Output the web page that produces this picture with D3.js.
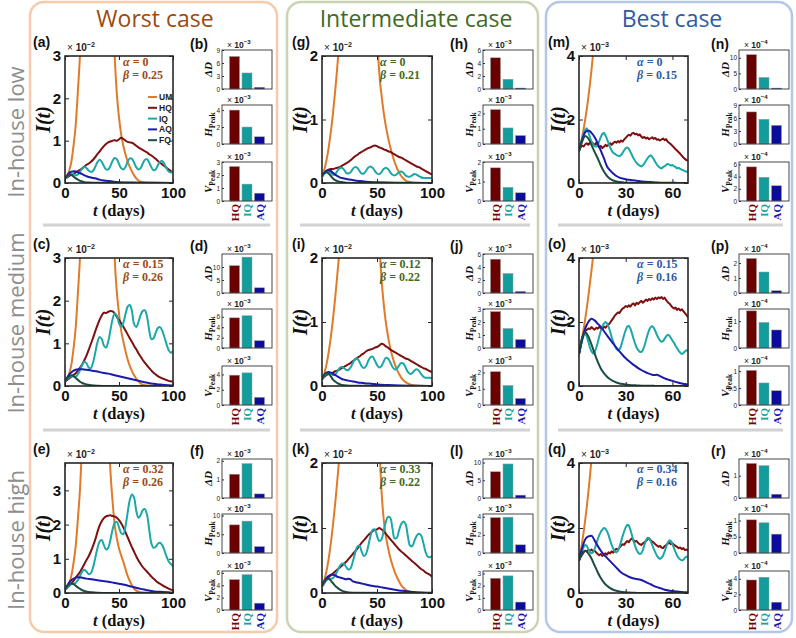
<!DOCTYPE html>
<html><head><meta charset="utf-8">
<script src="https://cdn.jsdelivr.net/npm/d3@7"></script>
<style>body{margin:0;background:#fff}svg{display:block}</style>
</head><body>
<svg width="796" height="638"></svg>
<script>
// ---------------- DATA ----------------
const daysW = d3.range(0, 101, 2);   // days for worst / intermediate series
const daysB1 = d3.range(0, 71, 1);   // days for best case (HQ, IQ)
const daysB2 = d3.range(0, 71, 2);   // days for best case (AQ, FQ)

const seriesNames = ['UM','HQ','IQ','AQ','FQ'];
const barCats = ['HQ','IQ','AQ'];
const columnTitles = ['Worst case','Intermediate case','Best case'];
const rowTitles = ['In-house low','In-house medium','In-house high'];

// Worst case, in-house low (a)
const UM_a = [[0,0.1],[2,0.17],[4,0.3],[6,0.52],[8,0.9],[10,1.4],[12,2.2],[14,3.1],[16,4.6],[18,6.8],[20,10],[40,10],[42,6],[44,4.2],[46,3.0],[48,2.1],[50,1.55],[52,1.15],[54,0.88],[56,0.68],[58,0.5],[60,0.38],[62,0.27],[64,0.18],[66,0.11],[68,0.06],[70,0.03],[74,0.01],[80,0.003],[100,0]];
const HQ_a = [0.10,0.13,0.17,0.20,0.22,0.25,0.28,0.31,0.35,0.39,0.43,0.46,0.50,0.55,0.61,0.68,0.74,0.81,0.87,0.92,0.96,0.98,1.00,1.01,1.00,1.03,1.07,1.04,1.00,0.97,0.96,0.95,0.92,0.88,0.84,0.81,0.78,0.75,0.72,0.68,0.65,0.61,0.57,0.52,0.48,0.44,0.40,0.36,0.32,0.28,0.24];
const IQ_a = [0.10,0.15,0.20,0.22,0.21,0.18,0.20,0.27,0.34,0.38,0.35,0.29,0.26,0.29,0.38,0.49,0.55,0.50,0.40,0.32,0.32,0.40,0.52,0.59,0.56,0.45,0.35,0.32,0.38,0.50,0.58,0.57,0.48,0.37,0.32,0.35,0.46,0.55,0.56,0.48,0.37,0.30,0.32,0.42,0.50,0.52,0.45,0.35,0.27,0.25,0.28];
const AQ_a = [[0,0.12],[2,0.18],[4,0.24],[6,0.27],[8,0.28],[10,0.27],[12,0.25],[14,0.23],[16,0.21],[18,0.18],[20,0.16],[24,0.13],[28,0.11],[32,0.08],[36,0.06],[40,0.045],[45,0.03],[50,0.02],[60,0.01],[70,0.005],[80,0.003],[100,0.001]];
const FQ_a = [[0,0.12],[2,0.17],[4,0.2],[6,0.19],[8,0.15],[10,0.11],[12,0.08],[14,0.05],[16,0.035],[18,0.02],[22,0.01],[30,0.003],[100,0]];

// Worst case, in-house medium (c)
const UM_c = [[0,0.1],[2,0.17],[4,0.3],[6,0.52],[8,0.9],[10,1.4],[12,2.2],[14,3.1],[16,4.6],[18,6.8],[20,10],[40,10],[42,6.5],[44,4.5],[46,3.0],[48,2.2],[50,1.7],[52,1.3],[54,1.05],[56,0.82],[58,0.62],[60,0.47],[62,0.35],[64,0.25],[66,0.17],[68,0.11],[70,0.06],[72,0.03],[76,0.01],[82,0.003],[100,0]];
const HQ_c = [0.10,0.14,0.18,0.22,0.26,0.30,0.36,0.43,0.51,0.61,0.72,0.85,0.99,1.13,1.28,1.42,1.55,1.65,1.72,1.71,1.74,1.76,1.75,1.70,1.62,1.55,1.47,1.39,1.30,1.21,1.12,1.03,0.94,0.86,0.77,0.69,0.61,0.54,0.48,0.42,0.36,0.31,0.27,0.23,0.20,0.18,0.16,0.14,0.12,0.11,0.10];
const IQ_c = [0.10,0.16,0.21,0.23,0.22,0.22,0.28,0.38,0.50,0.57,0.53,0.43,0.42,0.55,0.78,1.02,1.15,1.10,0.95,0.90,1.04,1.30,1.56,1.70,1.65,1.47,1.39,1.48,1.68,1.86,1.90,1.75,1.45,1.38,1.50,1.66,1.76,1.77,1.62,1.30,1.10,1.12,1.25,1.36,1.38,1.30,1.15,0.98,0.84,0.78,0.82];
const AQ_c = [[0,0.12],[2,0.2],[4,0.27],[6,0.32],[8,0.36],[10,0.38],[12,0.39],[16,0.39],[20,0.38],[25,0.36],[30,0.34],[35,0.31],[40,0.29],[45,0.26],[50,0.23],[55,0.2],[60,0.17],[65,0.14],[70,0.11],[75,0.08],[80,0.06],[85,0.04],[90,0.03],[95,0.02],[100,0.01]];
const FQ_c = [[0,0.12],[2,0.18],[4,0.23],[6,0.25],[8,0.23],[10,0.19],[12,0.14],[14,0.1],[16,0.07],[18,0.05],[20,0.035],[24,0.02],[30,0.008],[40,0.002],[100,0]];

// Worst case, in-house high (e)
const UM_e = [[0,0.1],[2,0.17],[4,0.3],[6,0.52],[8,0.9],[10,1.4],[12,2.2],[14,3.1],[16,4.6],[18,6.8],[20,10],[36,10],[38,7],[40,5],[42,3.6],[44,2.7],[46,2.0],[48,1.6],[50,1.3],[52,1.1],[54,0.92],[56,0.7],[58,0.5],[60,0.35],[62,0.22],[64,0.13],[66,0.07],[70,0.02],[76,0.005],[100,0]];
const HQ_e = [0.10,0.15,0.21,0.28,0.36,0.45,0.53,0.62,0.73,0.85,0.97,1.08,1.22,1.38,1.56,1.78,1.97,2.10,2.19,2.24,2.26,2.27,2.25,2.24,2.20,2.13,2.04,1.92,1.78,1.63,1.48,1.34,1.20,1.07,0.95,0.85,0.76,0.69,0.62,0.55,0.48,0.42,0.36,0.31,0.27,0.23,0.19,0.16,0.13,0.10,0.08];
const IQ_e = [0.10,0.16,0.22,0.26,0.27,0.30,0.38,0.50,0.63,0.68,0.62,0.55,0.58,0.75,1.02,1.30,1.50,1.55,1.40,1.27,1.32,1.55,1.85,2.05,2.08,1.92,1.75,1.72,1.95,2.35,2.72,2.88,2.78,2.40,2.20,2.28,2.42,2.45,2.28,1.85,1.45,1.32,1.35,1.44,1.47,1.40,1.25,1.07,0.92,0.85,0.78];
const AQ_e = [[0,0.12],[2,0.22],[4,0.31],[6,0.38],[8,0.42],[10,0.45],[12,0.46],[15,0.45],[20,0.42],[25,0.4],[30,0.37],[35,0.35],[40,0.33],[45,0.3],[50,0.27],[55,0.24],[60,0.2],[65,0.16],[70,0.12],[75,0.09],[80,0.06],[85,0.04],[90,0.03],[95,0.02],[100,0.01]];
const FQ_e = [[0,0.12],[2,0.2],[4,0.26],[6,0.28],[8,0.26],[10,0.21],[12,0.16],[14,0.12],[16,0.08],[18,0.06],[20,0.04],[25,0.02],[30,0.01],[40,0.003],[100,0]];

// Intermediate case (g, i, k)
const UM_g = [[0,0.1],[2,0.2],[4,0.35],[6,0.55],[8,0.8],[10,1.1],[12,1.45],[14,1.85],[16,2.3],[18,2.9],[20,3.6],[24,5],[44,5],[46,4.2],[48,3.3],[50,2.4],[52,1.75],[54,1.4],[56,1.12],[58,0.9],[60,0.72],[62,0.57],[64,0.44],[66,0.33],[68,0.24],[70,0.17],[72,0.11],[74,0.07],[76,0.04],[80,0.015],[86,0.005],[100,0]];
const HQ_g = [0.10,0.15,0.19,0.21,0.22,0.22,0.23,0.24,0.25,0.27,0.29,0.31,0.33,0.36,0.39,0.42,0.44,0.47,0.49,0.51,0.53,0.55,0.56,0.58,0.59,0.58,0.56,0.55,0.53,0.52,0.50,0.49,0.47,0.45,0.43,0.41,0.40,0.38,0.36,0.34,0.32,0.30,0.28,0.26,0.25,0.23,0.21,0.19,0.17,0.15,0.13];
const IQ_g = [0.10,0.14,0.17,0.18,0.16,0.13,0.14,0.19,0.23,0.24,0.21,0.16,0.15,0.17,0.22,0.25,0.24,0.19,0.15,0.15,0.19,0.24,0.26,0.24,0.19,0.15,0.14,0.17,0.22,0.24,0.22,0.17,0.13,0.12,0.14,0.17,0.18,0.16,0.12,0.10,0.10,0.12,0.14,0.13,0.11,0.09,0.08,0.08,0.08,0.08,0.08];
const AQ_g = [[0,0.12],[2,0.16],[4,0.19],[6,0.2],[8,0.19],[10,0.16],[12,0.13],[14,0.11],[16,0.09],[20,0.07],[25,0.055],[30,0.04],[35,0.03],[40,0.02],[50,0.012],[60,0.006],[70,0.003],[100,0.001]];
const FQ_g = [[0,0.12],[2,0.16],[4,0.17],[6,0.15],[8,0.11],[10,0.07],[12,0.045],[14,0.03],[17,0.015],[22,0.005],[30,0.001],[100,0]];

const UM_i = [[0,0.1],[2,0.19],[4,0.33],[6,0.52],[8,0.76],[10,1.05],[12,1.38],[14,1.75],[16,2.15],[18,2.7],[20,3.4],[24,5],[46,5],[48,4.2],[50,3.2],[52,2.3],[54,1.7],[56,1.3],[58,1.0],[60,0.78],[62,0.6],[64,0.46],[66,0.35],[68,0.26],[70,0.19],[72,0.13],[74,0.09],[76,0.06],[80,0.025],[86,0.008],[100,0]];
const HQ_i = [0.10,0.14,0.17,0.19,0.20,0.21,0.23,0.24,0.26,0.28,0.30,0.32,0.34,0.36,0.39,0.41,0.44,0.46,0.49,0.51,0.54,0.56,0.57,0.58,0.60,0.61,0.63,0.66,0.65,0.62,0.60,0.57,0.55,0.53,0.51,0.49,0.47,0.45,0.43,0.42,0.40,0.38,0.36,0.34,0.32,0.30,0.28,0.27,0.25,0.23,0.22];
const IQ_i = [0.10,0.15,0.19,0.20,0.19,0.17,0.18,0.23,0.28,0.30,0.28,0.25,0.25,0.29,0.36,0.42,0.43,0.38,0.31,0.28,0.31,0.39,0.45,0.46,0.40,0.33,0.29,0.31,0.38,0.44,0.43,0.37,0.30,0.26,0.27,0.32,0.36,0.35,0.29,0.22,0.19,0.20,0.24,0.26,0.24,0.19,0.15,0.13,0.13,0.13,0.12];
const AQ_i = [[0,0.12],[2,0.17],[4,0.21],[6,0.22],[8,0.21],[10,0.19],[12,0.17],[14,0.15],[16,0.13],[18,0.11],[20,0.1],[25,0.08],[30,0.065],[35,0.05],[40,0.04],[45,0.035],[50,0.025],[60,0.015],[70,0.008],[80,0.004],[100,0.001]];
const FQ_i = [[0,0.12],[2,0.17],[4,0.2],[6,0.19],[8,0.15],[10,0.1],[12,0.07],[14,0.045],[16,0.03],[20,0.012],[25,0.005],[100,0]];

const UM_k = [[0,0.1],[2,0.19],[4,0.33],[6,0.52],[8,0.76],[10,1.05],[12,1.38],[14,1.75],[16,2.15],[18,2.7],[20,3.4],[24,5],[46,5],[48,4.2],[50,3.2],[52,2.3],[54,1.6],[56,1.15],[58,0.88],[60,0.7],[62,0.55],[64,0.43],[66,0.33],[68,0.25],[70,0.18],[72,0.12],[74,0.08],[76,0.05],[80,0.02],[86,0.006],[100,0]];
const HQ_k = [0.10,0.15,0.20,0.24,0.27,0.30,0.33,0.36,0.39,0.42,0.45,0.48,0.52,0.56,0.60,0.64,0.68,0.73,0.77,0.81,0.85,0.89,0.92,0.95,0.97,0.98,1.00,0.98,0.95,0.91,0.87,0.83,0.79,0.75,0.71,0.67,0.64,0.61,0.58,0.55,0.52,0.49,0.46,0.43,0.40,0.37,0.35,0.32,0.30,0.28,0.25];
const IQ_k = [0.10,0.15,0.20,0.22,0.22,0.23,0.27,0.34,0.41,0.45,0.45,0.40,0.36,0.38,0.48,0.61,0.71,0.73,0.64,0.57,0.60,0.72,0.87,0.97,0.98,0.88,0.80,0.82,0.95,1.09,1.17,1.16,1.00,0.84,0.85,0.96,1.06,1.10,1.06,0.88,0.73,0.72,0.80,0.88,0.91,0.89,0.78,0.64,0.56,0.55,0.57];
const AQ_k = [[0,0.12],[2,0.18],[4,0.23],[6,0.26],[8,0.28],[10,0.28],[12,0.27],[14,0.25],[16,0.24],[18,0.23],[20,0.22],[22,0.21],[24,0.22],[26,0.21],[28,0.18],[30,0.17],[35,0.15],[40,0.13],[45,0.11],[50,0.1],[55,0.085],[60,0.07],[65,0.055],[70,0.04],[75,0.03],[80,0.02],[85,0.012],[90,0.008],[100,0.003]];
const FQ_k = [[0,0.12],[2,0.17],[4,0.21],[6,0.22],[8,0.19],[10,0.15],[12,0.11],[14,0.08],[16,0.055],[18,0.035],[20,0.022],[25,0.008],[30,0.003],[100,0]];

// Best case (m, o, q)
const UM_m = [[0,1.0],[2,1.45],[4,2.0],[6,2.7],[8,3.55],[10,4.6],[12,6]];
const HQ_m = [1.05,1.12,1.18,1.15,1.22,1.25,1.20,1.27,1.30,1.24,1.20,1.26,1.18,1.12,1.17,1.10,1.14,1.20,1.16,1.21,1.25,1.20,1.26,1.30,1.27,1.32,1.28,1.34,1.30,1.37,1.42,1.48,1.52,1.49,1.56,1.58,1.53,1.55,1.50,1.53,1.46,1.42,1.45,1.40,1.43,1.38,1.41,1.44,1.39,1.42,1.36,1.38,1.34,1.37,1.40,1.35,1.38,1.30,1.26,1.22,1.17,1.12,1.06,1.02,0.97,0.92,0.86,0.80,0.76,0.72,0.70];
const IQ_m = [1.00,1.20,1.40,1.55,1.68,1.72,1.60,1.45,1.30,1.22,1.16,1.15,1.20,1.32,1.45,1.55,1.58,1.50,1.38,1.25,1.12,1.02,0.95,0.92,0.88,0.86,0.84,0.88,0.95,1.03,1.10,1.12,1.08,0.98,0.88,0.78,0.70,0.63,0.58,0.55,0.52,0.56,0.62,0.70,0.78,0.84,0.87,0.83,0.75,0.66,0.58,0.52,0.48,0.46,0.50,0.53,0.57,0.60,0.58,0.55,0.57,0.53,0.50,0.46,0.48,0.44,0.42,0.40,0.37,0.36,0.34];
const AQ_m = [1.00,1.35,1.60,1.65,1.58,1.45,1.25,1.02,0.78,0.52,0.40,0.30,0.22,0.17,0.14,0.12,0.10,0.09,0.08,0.06,0.05,0.04,0.035,0.03,0.02,0.015,0.01,0.01,0.008,0.006,0.005,0.004,0.003,0.002,0.002,0.001];
const FQ_m = [1.00,1.30,1.48,1.40,1.20,0.98,0.78,0.55,0.36,0.22,0.13,0.08,0.05,0.03,0.02,0.01,0.005,0.004,0.003,0.002,0.001,0,0,0,0,0,0,0,0,0,0,0,0,0,0,0];

const UM_o = [[0,1.0],[2,1.5],[4,2.1],[6,2.8],[8,3.6],[10,4.5],[12,5.7]];
const HQ_o = [1.00,1.25,1.48,1.62,1.72,1.76,1.80,1.78,1.84,1.80,1.76,1.82,1.79,1.85,1.80,1.78,1.86,1.82,1.88,1.92,1.98,2.05,2.12,2.20,2.25,2.30,2.28,2.36,2.42,2.45,2.50,2.47,2.52,2.48,2.55,2.58,2.52,2.60,2.56,2.62,2.66,2.60,2.65,2.70,2.66,2.72,2.68,2.74,2.70,2.76,2.72,2.77,2.74,2.78,2.72,2.76,2.68,2.62,2.58,2.52,2.46,2.42,2.45,2.38,2.42,2.36,2.40,2.34,2.28,2.22,2.15];
const IQ_o = [1.00,1.20,1.42,1.58,1.65,1.55,1.38,1.20,1.08,1.02,1.05,1.18,1.35,1.55,1.72,1.86,1.95,2.00,1.96,1.85,1.70,1.52,1.38,1.25,1.16,1.12,1.14,1.25,1.42,1.60,1.75,1.86,1.88,1.80,1.65,1.48,1.33,1.20,1.12,1.07,1.06,1.12,1.25,1.42,1.60,1.75,1.84,1.87,1.82,1.72,1.60,1.50,1.42,1.38,1.40,1.48,1.55,1.60,1.58,1.50,1.42,1.35,1.26,1.18,1.10,1.04,1.00,1.03,1.08,1.12,1.10];
const AQ_o = [1.00,1.45,1.80,2.00,2.10,2.05,1.95,1.85,1.72,1.58,1.45,1.32,1.20,1.08,0.97,0.87,0.78,0.70,0.63,0.56,0.50,0.45,0.40,0.37,0.34,0.35,0.31,0.26,0.22,0.19,0.16,0.13,0.10,0.08,0.06,0.05];
const FQ_o = [1.00,1.50,1.68,1.55,1.30,1.02,0.76,0.55,0.40,0.29,0.21,0.15,0.11,0.08,0.06,0.045,0.035,0.025,0.02,0.015,0.01,0.008,0.006,0.005,0.004,0.003,0.002,0.002,0.001,0.001,0,0,0,0,0,0];

const UM_q = [[0,1.0],[2,1.55],[4,2.25],[6,3.1],[8,4.1],[10,5.3]];
const HQ_q = [1.00,1.10,1.18,1.25,1.30,1.28,1.32,1.30,1.34,1.28,1.30,1.25,1.20,1.16,1.20,1.14,1.18,1.22,1.18,1.25,1.22,1.28,1.24,1.32,1.36,1.33,1.40,1.45,1.50,1.48,1.55,1.60,1.56,1.64,1.68,1.62,1.58,1.60,1.54,1.50,1.48,1.52,1.56,1.60,1.65,1.68,1.62,1.58,1.55,1.50,1.46,1.42,1.45,1.40,1.38,1.44,1.48,1.52,1.55,1.50,1.53,1.48,1.45,1.42,1.38,1.40,1.35,1.38,1.32,1.34,1.30];
const IQ_q = [1.00,1.15,1.30,1.42,1.48,1.45,1.35,1.26,1.22,1.25,1.35,1.50,1.65,1.78,1.88,1.95,2.00,1.98,1.90,1.78,1.62,1.48,1.36,1.28,1.25,1.30,1.42,1.58,1.75,1.90,2.02,2.10,2.08,1.95,1.78,1.60,1.45,1.32,1.24,1.20,1.22,1.32,1.48,1.62,1.70,1.68,1.60,1.48,1.36,1.25,1.15,1.08,1.05,1.08,1.15,1.28,1.42,1.55,1.62,1.60,1.50,1.38,1.26,1.15,1.08,1.03,1.00,1.02,1.08,1.12,1.10];
const AQ_q = [1.00,1.38,1.65,1.74,1.76,1.62,1.45,1.30,1.18,1.08,0.98,0.88,0.78,0.68,0.60,0.55,0.50,0.46,0.44,0.42,0.40,0.36,0.31,0.27,0.22,0.18,0.15,0.12,0.09,0.07,0.06,0.05,0.04,0.03,0.025,0.02];
const FQ_q = [1.00,1.22,1.30,1.22,1.06,0.85,0.64,0.46,0.32,0.22,0.15,0.10,0.07,0.05,0.03,0.02,0.015,0.01,0.005,0.003,0.002,0.001,0,0,0,0,0,0,0,0,0,0,0,0,0,0];

// Bar values [HQ, IQ, AQ]
const dD_b = [7.5,3.7,0.4],   H_b = [4.0,2.0,0.85],  V_b = [2.65,1.3,0.6];
const dD_d = [10.5,13.8,2.0], H_d = [5.8,6.2,1.4],   V_d = [3.9,4.2,1.0];
const dD_f = [1.28,1.85,0.22],H_f = [7.5,8.5,1.7],   V_f = [4.9,5.7,1.1];
const dD_h = [4.8,1.5,0.15],  H_h = [2.25,1.05,0.55],V_h = [1.7,0.7,0.42];
const dD_j = [5.2,3.0,0.25],  H_j = [2.8,1.5,0.65],  V_j = [2.05,1.2,0.4];
const dD_l = [7.4,9.6,0.8],   H_l = [3.9,3.95,0.9],  V_l = [2.6,2.8,0.65];
const dD_n = [11,3.7,0.3],    H_n = [7.4,5.7,4.3],   V_n = [5.6,3.9,2.5];
const dD_p = [2.3,1.4,0.15],  H_p = [1.38,0.95,0.67],V_p = [1.02,0.65,0.42];
const dD_r = [1.55,1.45,0.17],H_r = [1.02,0.93,0.58],V_r = [3.85,4.2,1.0];

// ---------------- LAYOUT / STYLE ----------------
const serif = "'Liberation Serif','DejaVu Serif',serif";
const sans = "'Liberation Sans',Arial,sans-serif";
const lineColors = {UM:'#e07b2a', HQ:'#7d1010', IQ:'#1ca8a8', AQ:'#1a1aad', FQ:'#1b4d44'};
const barColors = {HQ:'#6b0000', IQ:'#139c9c', AQ:'#0c0c9a'};
const labelColors = {HQ:'#7a0000', IQ:'#14a3a3', AQ:'#1515b5'};

const cols = [
  {plotL:65,  plotR:173, barL:222, lblX:33,  barLblX:190, yLblX:44,  box:[30,277],  sep:[43,270],  titleX:155, stroke:'#f7cbaa', color:'#9c4a12'},
  {plotL:322, plotR:432, barL:483, lblX:292, barLblX:450, yLblX:301, box:[287,538], sep:[300,530], titleX:416, stroke:'#cbd3b5', color:'#3f6a26'},
  {plotL:579, plotR:688, barL:739, lblX:548, barLblX:711, yLblX:559, box:[546,792], sep:[558,783], titleX:672, stroke:'#b3c7e6', color:'#2f5ca3'}
];
const rowOff = [0, 204, 409];
const plotTop = [56, 258, 463];
const plotBot = [183, 386, 593];
const barTops = [50, 105, 162];
const barH = 39, barW = 50;
const rowLabelY = [132, 323, 540];

const svg = d3.select('svg');
svg.append('rect').attr('width',796).attr('height',638).attr('fill','#fff');

// column boxes, titles, separators
cols.forEach((c, i) => {
  svg.append('rect').attr('x', c.box[0]).attr('y', 2).attr('width', c.box[1]-c.box[0]).attr('height', 630)
    .attr('rx', 14).attr('fill', '#fff').attr('stroke', c.stroke).attr('stroke-width', 2.5);
  svg.append('text').attr('x', c.titleX).attr('y', 27).attr('text-anchor','middle')
    .attr('font-family',"'Open Sans',sans-serif").attr('font-size',23).attr('fill', c.color).text(columnTitles[i]);
  [225, 430].forEach(yy => svg.append('line').attr('x1', c.sep[0]).attr('x2', c.sep[1]).attr('y1', yy).attr('y2', yy)
    .attr('stroke','#d2d2d2').attr('stroke-width',3));
});
rowTitles.forEach((t, i) => {
  svg.append('text').attr('transform', `translate(24,${rowLabelY[i]}) rotate(-90)`).attr('text-anchor','middle')
    .attr('font-family',"'Open Sans',sans-serif").attr('font-size',22).attr('fill','#8e8e8e').text(t);
});

// ---------------- LINE PANELS ----------------
const linePanels = [
  {col:0,row:0,letter:'a',um:UM_a,hq:HQ_a,iq:IQ_a,aq:AQ_a,fq:FQ_a,alpha:'0',beta:'0.25',yMax:3,yTicks:[0,1,2,3],legend:true},
  {col:0,row:1,letter:'c',um:UM_c,hq:HQ_c,iq:IQ_c,aq:AQ_c,fq:FQ_c,alpha:'0.15',beta:'0.26',yMax:3,yTicks:[0,1,2,3]},
  {col:0,row:2,letter:'e',um:UM_e,hq:HQ_e,iq:IQ_e,aq:AQ_e,fq:FQ_e,alpha:'0.32',beta:'0.26',yMax:3.8,yTicks:[0,1,2,3]},
  {col:1,row:0,letter:'g',um:UM_g,hq:HQ_g,iq:IQ_g,aq:AQ_g,fq:FQ_g,alpha:'0',beta:'0.21',yMax:2,yTicks:[0,1,2]},
  {col:1,row:1,letter:'i',um:UM_i,hq:HQ_i,iq:IQ_i,aq:AQ_i,fq:FQ_i,alpha:'0.12',beta:'0.22',yMax:2,yTicks:[0,1,2]},
  {col:1,row:2,letter:'k',um:UM_k,hq:HQ_k,iq:IQ_k,aq:AQ_k,fq:FQ_k,alpha:'0.33',beta:'0.22',yMax:2,yTicks:[0,1,2]},
  {col:2,row:0,letter:'m',um:UM_m,hq:HQ_m,iq:IQ_m,aq:AQ_m,fq:FQ_m,alpha:'0',beta:'0.15',yMax:4,yTicks:[0,2,4]},
  {col:2,row:1,letter:'o',um:UM_o,hq:HQ_o,iq:IQ_o,aq:AQ_o,fq:FQ_o,alpha:'0.15',beta:'0.16',yMax:4,yTicks:[0,2,4]},
  {col:2,row:2,letter:'q',um:UM_q,hq:HQ_q,iq:IQ_q,aq:AQ_q,fq:FQ_q,alpha:'0.34',beta:'0.16',yMax:4,yTicks:[0,2,4]}
];

function expLabel(sel, x, y, exp, size) {
  const t = sel.append('text').attr('x', x).attr('y', y).attr('font-family', sans).attr('font-size', size).attr('fill','#222');
  t.append('tspan').text('× ');
  t.append('tspan').attr('font-weight','bold').text('10');
  t.append('tspan').attr('dy', -size*0.4).attr('font-size', size*0.72).attr('font-weight','bold').text('−' + exp);
}

linePanels.forEach(p => {
  const c = cols[p.col];
  const best = p.col === 2;
  const top = plotTop[p.row], bot = plotBot[p.row];
  const x = d3.scaleLinear().domain(best ? [0,70] : [0,100]).range([c.plotL, c.plotR]);
  const y = d3.scaleLinear().domain([0, p.yMax]).range([bot, top]);
  const xTicks = best ? [0,30,60] : [0,50,100];
  const g = svg.append('g');
  const cid = 'clip-' + p.letter;
  g.append('clipPath').attr('id', cid).append('rect')
    .attr('x', c.plotL).attr('y', top).attr('width', c.plotR - c.plotL).attr('height', bot - top);
  const lg = g.append('g').attr('clip-path', `url(#${cid})`);
  const smooth = d3.curveCatmullRom.alpha(0.5);
  const series = [
    {k:'UM', d:p.um, curve:d3.curveMonotoneX},
    {k:'HQ', d:d3.zip(best ? daysB1 : daysW, p.hq), curve: best ? d3.curveLinear : smooth},
    {k:'IQ', d:d3.zip(best ? daysB1 : daysW, p.iq), curve: best ? d3.curveLinear : smooth},
    {k:'AQ', d:best ? d3.zip(daysB2, p.aq) : p.aq, curve:d3.curveMonotoneX},
    {k:'FQ', d:best ? d3.zip(daysB2, p.fq) : p.fq, curve:d3.curveMonotoneX}
  ];
  series.forEach(s => {
    const line = d3.line().x(d => x(d[0])).y(d => y(d[1])).curve(s.curve);
    lg.append('path').attr('d', line(s.d)).attr('fill','none').attr('stroke', lineColors[s.k])
      .attr('stroke-width', 2).attr('stroke-linejoin','round');
  });
  // axes (inward ticks)
  const styleAxis = (ax) => {
    ax.select('.domain').remove();
    ax.selectAll('.tick line').attr('stroke','#262626').attr('stroke-width',1);
    ax.attr('font-family', sans).attr('font-size', 15).attr('font-weight','bold');
    ax.selectAll('.tick text').attr('fill','#111');
  };
  g.append('g').attr('transform', `translate(0,${bot})`)
    .call(d3.axisBottom(x).tickValues(xTicks).tickSize(-4).tickPadding(4)).call(styleAxis);
  g.append('g').attr('transform', `translate(0,${top})`)
    .call(d3.axisTop(x).tickValues(xTicks).tickSize(-4).tickFormat('')).call(styleAxis);
  g.append('g').attr('transform', `translate(${c.plotL},0)`)
    .call(d3.axisLeft(y).tickValues(p.yTicks).tickSize(-4).tickPadding(4).tickFormat(d3.format('~g'))).call(styleAxis);
  g.append('g').attr('transform', `translate(${c.plotR},0)`)
    .call(d3.axisRight(y).tickValues(p.yTicks).tickSize(-4).tickFormat('')).call(styleAxis);
  g.append('rect').attr('x', c.plotL).attr('y', top).attr('width', c.plotR - c.plotL).attr('height', bot - top)
    .attr('fill','none').attr('stroke','#262626').attr('stroke-width',1.6);

  expLabel(g, c.plotL + 2, top - 5, best ? '3' : '2', 10);
  g.append('text').attr('x', c.lblX).attr('y', top - 9).attr('font-family', sans).attr('font-weight','bold')
    .attr('font-size', 14).attr('fill','#111').text(`(${p.letter})`);
  // axis labels
  const xl = g.append('text').attr('x', (c.plotL + c.plotR)/2).attr('y', bot + 33).attr('text-anchor','middle')
    .attr('font-family', serif).attr('font-weight','bold').attr('font-size', 16.5).attr('fill','#111');
  xl.append('tspan').attr('font-style','italic').text('t');
  xl.append('tspan').text(' (days)');
  g.append('text').attr('transform', `translate(${c.yLblX + 6},${(top+bot)/2}) rotate(-90)`).attr('text-anchor','middle')
    .attr('font-family', serif).attr('font-weight','bold').attr('font-style','italic').attr('font-size', 20)
    .attr('fill','#111').text('I(t)');
  // alpha / beta
  [['α', p.alpha, 9.5], ['β', p.beta, 23]].forEach(([sym, val, dy]) => {
    const t = g.append('text').attr('x', c.plotL + 58).attr('y', top + dy).attr('font-family', serif)
      .attr('font-weight','bold').attr('font-size', 12).attr('fill', c.color);
    t.append('tspan').attr('font-style','italic').text(sym);
    t.append('tspan').text(' = ' + val);
  });
  if (p.legend) {
    seriesNames.forEach((nm, i) => {
      const yy = top + 41 + i * 10.8;
      g.append('line').attr('x1', 148).attr('x2', 157).attr('y1', yy).attr('y2', yy)
        .attr('stroke', lineColors[nm]).attr('stroke-width', 2);
      g.append('text').attr('x', 159).attr('y', yy + 3).attr('font-family', sans).attr('font-weight','bold')
        .attr('font-size', 8.5).attr('fill','#222').text(nm);
    });
  }
});

// ---------------- BAR PANELS ----------------
const barPanels = [
  {col:0,row:0,letter:'b',vals:[dD_b,H_b,V_b],max:[9,4.6,3],   ticks:[[0,3,6,9],[0,2,4],[0,1,2,3]],exp:'3'},
  {col:0,row:1,letter:'d',vals:[dD_d,H_d,V_d],max:[15,7.5,5.1],ticks:[[0,5,10],[0,2,4,6],[0,2,4]],exp:'3'},
  {col:0,row:2,letter:'f',vals:[dD_f,H_f,V_f],max:[2.1,10.4,6.3],ticks:[[0,1,2],[0,5,10],[0,2,4,6]],exp:'3'},
  {col:1,row:0,letter:'h',vals:[dD_h,H_h,V_h],max:[6,2.55,2],  ticks:[[0,2,4,6],[0,1,2],[0,1,2]],exp:'3'},
  {col:1,row:1,letter:'j',vals:[dD_j,H_j,V_j],max:[6,3,2.4],   ticks:[[0,2,4,6],[0,1,2,3],[0,1,2]],exp:'3'},
  {col:1,row:2,letter:'l',vals:[dD_l,H_l,V_l],max:[11,4.3,3.2],ticks:[[0,5,10],[0,2,4],[0,1,2,3]],exp:'3'},
  {col:2,row:0,letter:'n',vals:[dD_n,H_n,V_n],max:[12.5,9,6.4],ticks:[[0,5,10],[0,3,6,9],[0,2,4,6]],exp:'4'},
  {col:2,row:1,letter:'p',vals:[dD_p,H_p,V_p],max:[2.6,1.45,1.15],ticks:[[0,1,2],[0,1],[0,0.5,1]],exp:'4'},
  {col:2,row:2,letter:'r',vals:[dD_r,H_r,V_r],max:[1.75,1.2,5],ticks:[[0,1],[0,0.5,1],[0,2,4]],exp:'4'}
];
const barLabels = ['ΔD','H','V'];

barPanels.forEach(bp => {
  const c = cols[bp.col];
  const g = svg.append('g');
  g.append('text').attr('x', c.barLblX).attr('y', plotTop[bp.row] - 7).attr('font-family', sans)
    .attr('font-weight','bold').attr('font-size', 14).attr('fill','#111').text(`(${bp.letter})`);
  const xb = d3.scaleBand().domain(barCats).range([c.barL, c.barL + barW]).paddingInner(0.2).paddingOuter(0.6);
  bp.vals.forEach((vals, k) => {
    const top = barTops[k] + rowOff[bp.row], bot = top + barH;
    const y = d3.scaleLinear().domain([0, bp.max[k]]).range([bot, top]);
    g.selectAll(null).data(barCats).enter().append('rect')
      .attr('x', d => xb(d)).attr('width', xb.bandwidth())
      .attr('y', (d, i) => y(vals[i])).attr('height', (d, i) => bot - y(vals[i]))
      .attr('fill', d => barColors[d]).attr('stroke','#9a9a9a').attr('stroke-width',0.5);
    const ax = g.append('g').attr('transform', `translate(${c.barL},0)`)
      .call(d3.axisLeft(y).tickValues(bp.ticks[k]).tickSize(-2).tickPadding(2).tickFormat(d3.format('~g')));
    ax.select('.domain').remove();
    ax.attr('font-family', sans).attr('font-size', 6.5);
    ax.selectAll('.tick line').attr('stroke','#333');
    ax.selectAll('.tick text').attr('fill','#222');
    g.append('rect').attr('x', c.barL).attr('y', top).attr('width', barW).attr('height', barH)
      .attr('fill','none').attr('stroke','#333').attr('stroke-width',0.9);
    expLabel(g, c.barL + 5, top - 2.5, bp.exp, 8.5);
    const yl = g.append('text').attr('transform', `translate(${c.barL - 10},${(top+bot)/2}) rotate(-90)`)
      .attr('text-anchor','middle').attr('font-family', serif).attr('font-weight','bold').attr('font-size', 11).attr('fill','#111');
    yl.append('tspan').attr('font-style','italic').text(barLabels[k]);
    if (k > 0) yl.append('tspan').attr('font-size', 7.5).attr('dy', 2.5).text('Peak');
    if (k === 2) {
      barCats.forEach(cat => {
        g.append('text').attr('transform', `translate(${xb(cat) + xb.bandwidth()/2 + 4},${bot + 3}) rotate(-90)`)
          .attr('text-anchor','end').attr('font-family', serif).attr('font-weight','bold').attr('font-size', 11)
          .attr('fill', labelColors[cat]).text(cat);
      });
    }
  });
});
</script>
</body></html>
